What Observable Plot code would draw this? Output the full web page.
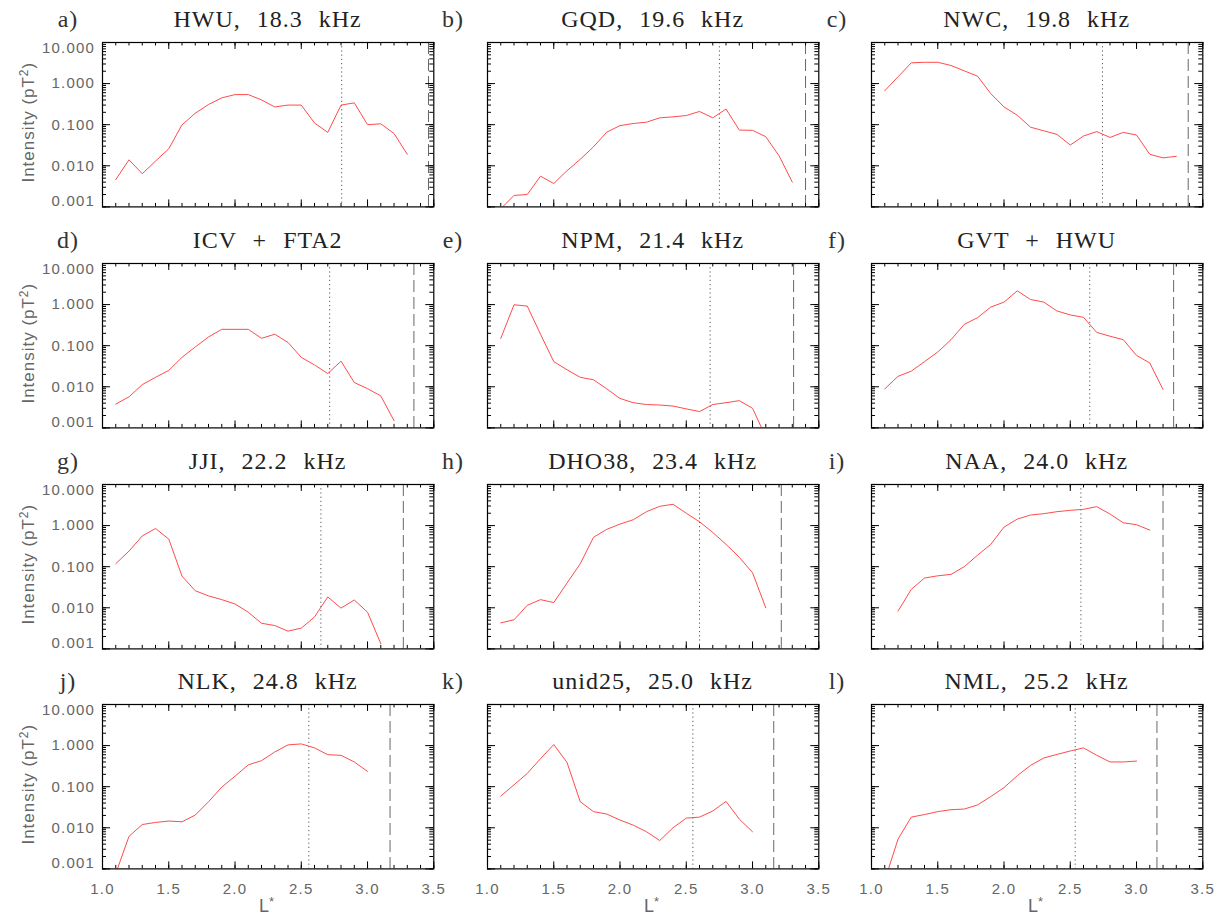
<!DOCTYPE html>
<html>
<head>
<meta charset="utf-8">
<script src="https://cdn.jsdelivr.net/npm/d3@7"></script>
<script src="https://cdn.jsdelivr.net/npm/@observablehq/plot@0.6"></script>
<style>
  html, body { margin: 0; padding: 0; background: #fff; }
  #chart { position: relative; width: 1220px; height: 915px; background: #fff; overflow: hidden; }
  #chart svg { position: absolute; overflow: visible; background: transparent; }
  #chart svg g[aria-label$="tick label"] { letter-spacing: 1.2px; }
</style>
</head>
<body>
<div id="chart"></div>
<script>
// ---------------- data ----------------
const lStar = [1.1, 1.2, 1.3, 1.4, 1.5, 1.6, 1.7, 1.8, 1.9, 2.0, 2.1, 2.2, 2.3, 2.4, 2.5, 2.6, 2.7, 2.8, 2.9, 3.0, 3.1, 3.2, 3.3];

const panelLetters = ["a)", "b)", "c)", "d)", "e)", "f)", "g)", "h)", "i)", "j)", "k)", "l)"];
const panelTitles = ["HWU, 18.3 kHz", "GQD, 19.6 kHz", "NWC, 19.8 kHz",
                     "ICV + FTA2", "NPM, 21.4 kHz", "GVT + HWU",
                     "JJI, 22.2 kHz", "DHO38, 23.4 kHz", "NAA, 24.0 kHz",
                     "NLK, 24.8 kHz", "unid25, 25.0 kHz", "NML, 25.2 kHz"];

const intensityA = [0.0046, 0.014, 0.0064, 0.013, 0.026, 0.099, 0.19, 0.31, 0.45, 0.54, 0.54, 0.40, 0.27, 0.30, 0.30, 0.11, 0.065, 0.30, 0.34, 0.10, 0.105, 0.061, 0.019];
const intensityB = [0.0009, 0.0019, 0.0020, 0.0056, 0.0037, 0.0076, 0.0144, 0.029, 0.066, 0.095, 0.107, 0.115, 0.147, 0.155, 0.167, 0.21, 0.147, 0.24, 0.074, 0.073, 0.051, 0.0175, 0.0040];
const intensityC = [0.67, 1.46, 3.2, 3.3, 3.3, 2.76, 2.04, 1.52, 0.57, 0.27, 0.17, 0.087, 0.071, 0.058, 0.032, 0.053, 0.068, 0.049, 0.065, 0.056, 0.019, 0.0156, 0.017];
const intensityD = [0.0038, 0.0057, 0.0113, 0.017, 0.025, 0.052, 0.093, 0.163, 0.25, 0.25, 0.25, 0.151, 0.19, 0.12, 0.052, 0.034, 0.021, 0.042, 0.0127, 0.009, 0.006, 0.0015, null];
const intensityE = [0.15, 0.99, 0.92, 0.19, 0.041, 0.026, 0.017, 0.0148, 0.0089, 0.0052, 0.0041, 0.0037, 0.0036, 0.0034, 0.0029, 0.0025, 0.0037, 0.0041, 0.0046, 0.0030, 0.0006, null, null];
const intensityF = [0.0089, 0.018, 0.024, 0.041, 0.070, 0.14, 0.33, 0.48, 0.87, 1.15, 2.16, 1.33, 1.15, 0.70, 0.56, 0.49, 0.21, 0.17, 0.14, 0.058, 0.038, 0.0086, null];
const intensityG = [0.118, 0.24, 0.56, 0.85, 0.47, 0.059, 0.026, 0.0195, 0.0158, 0.0124, 0.0078, 0.0042, 0.0037, 0.0027, 0.0032, 0.006, 0.0184, 0.0098, 0.0155, 0.0078, 0.00134, null, null];
const intensityH = [0.0043, 0.0051, 0.0115, 0.0158, 0.0134, 0.040, 0.118, 0.52, 0.81, 1.09, 1.39, 2.18, 2.95, 3.3, 2.0, 1.24, 0.68, 0.35, 0.17, 0.071, 0.0100, null, null];
const intensityI = [null, 0.0083, 0.028, 0.053, 0.060, 0.065, 0.10, 0.19, 0.35, 0.92, 1.44, 1.81, 1.95, 2.18, 2.35, 2.49, 2.89, 1.91, 1.17, 1.05, 0.78, null, null];
const intensityJ = [0.00077, 0.0062, 0.012, 0.0135, 0.0146, 0.014, 0.0204, 0.043, 0.098, 0.18, 0.34, 0.43, 0.70, 1.04, 1.10, 0.88, 0.60, 0.58, 0.40, 0.236, null, null, null];
const intensityK = [0.059, 0.111, 0.21, 0.48, 1.06, 0.39, 0.043, 0.0247, 0.0216, 0.0154, 0.0116, 0.008, 0.0049, 0.010, 0.0172, 0.0182, 0.0256, 0.044, 0.0163, 0.008, null, null, null];
const intensityL = [0.00052, 0.0053, 0.0182, 0.021, 0.0247, 0.0276, 0.0286, 0.0359, 0.0575, 0.095, 0.185, 0.33, 0.50, 0.61, 0.74, 0.88, 0.58, 0.40, 0.40, 0.42, null, null, null];

const dottedL = [2.805, 2.75, 2.743, 2.714, 2.68, 2.647, 2.648, 2.60, 2.58, 2.557, 2.55, 2.537];
const dashedL = [3.46, 3.40, 3.39, 3.35, 3.31, 3.28, 3.27, 3.217, 3.20, 3.17, 3.16, 3.154];

const xTicks = [1.0, 1.5, 2.0, 2.5, 3.0, 3.5];
const yTicks = [0.001, 0.01, 0.1, 1, 10];

// ---------------- layout ----------------
const series = [intensityA, intensityB, intensityC, intensityD, intensityE, intensityF,
                intensityG, intensityH, intensityI, intensityJ, intensityK, intensityL];
const colLeft = [101.7, 486.7, 870.7];
const rowTop = [42.3, 263, 483.7, 704.3];
const FW = 331.3, FH = 164.4;
const ML = 100, MR = 20, MT = 50, MB = 50;

const yMinor = d3.scaleLog().domain([0.001, 10]).ticks();
const xMinor = d3.range(10, 36).map(d => d / 10);

const sans = "'Liberation Sans', Arial, Helvetica, sans-serif";
const serif = "'Liberation Serif', 'Times New Roman', serif";
const labelGray = "#666";

const chart = document.getElementById("chart");

series.forEach((vals, i) => {
  const col = i % 3, row = Math.floor(i / 3);
  const isLeft = col === 0, isBottom = row === 3;
  const rows = lStar.map((L, j) => ({L, v: vals[j]})).filter(d => d.v != null);

  const marks = [
    Plot.ruleX([dottedL[i]], {x: d => d, stroke: "#555", strokeWidth: 1, strokeDasharray: "1.2,3"}),
    Plot.ruleX([dashedL[i]], {x: d => d, stroke: "#666", strokeWidth: 1, strokeDasharray: "12,5"}),
    Plot.line(rows, {x: "L", y: "v", stroke: "#ff4a4a", strokeWidth: 1, clip: true}),
    // inward ticks on all four sides
    Plot.tickY(yMinor, {y: d => d, stroke: "#000", insetRight: FW - 4}),
    Plot.tickY(yMinor, {y: d => d, stroke: "#000", insetLeft: FW - 4}),
    Plot.tickY(yTicks, {y: d => d, stroke: "#000", insetRight: FW - 8}),
    Plot.tickY(yTicks, {y: d => d, stroke: "#000", insetLeft: FW - 8}),
    Plot.tickX(xMinor, {x: d => d, stroke: "#000", insetTop: FH - 3.5}),
    Plot.tickX(xMinor, {x: d => d, stroke: "#000", insetBottom: FH - 3.5}),
    Plot.tickX(xTicks, {x: d => d, stroke: "#000", insetTop: FH - 7}),
    Plot.tickX(xTicks, {x: d => d, stroke: "#000", insetBottom: FH - 7}),
    Plot.frame({stroke: "#000", strokeWidth: 1.2})
  ];

  if (isLeft) {
    const common = {tickFormat: d3.format(".3f"), tickSize: 0, tickPadding: 7.5, fontSize: 15,
                    fill: labelGray, label: null};
    marks.push(Plot.axisY([1, 0.1, 0.01], common));
    marks.push(Plot.axisY([10], {...common, dy: 6}));
    marks.push(Plot.axisY([0.001], {...common, dy: -6}));
  }
  if (isBottom) {
    marks.push(Plot.axisX(xTicks, {tickFormat: d3.format(".1f"), tickSize: 0, tickPadding: 14.7,
                                   fontSize: 15, fill: labelGray, label: null}));
  }

  const svg = Plot.plot({
    width: ML + FW + MR,
    height: MT + FH + MB,
    marginLeft: ML, marginRight: MR, marginTop: MT, marginBottom: MB,
    x: {domain: [1, 3.5], label: null, axis: isBottom ? undefined : null},
    y: {type: "log", domain: [0.001, 10], label: null, axis: isLeft ? undefined : null},
    style: {background: "transparent", overflow: "visible", fontFamily: sans},
    marks
  });
  svg.style.left = (colLeft[col] - ML) + "px";
  svg.style.top = (rowTop[row] - MT) + "px";

  const s = d3.select(svg);
  // panel letter
  s.append("text")
    .attr("x", ML - 34).attr("y", MT - 14.8)
    .attr("font-family", serif).attr("font-size", 24).attr("fill", "#333")
    .attr("letter-spacing", "1px")
    .text(panelLetters[i]);
  // title
  s.append("text")
    .attr("x", ML + FW / 2).attr("y", MT - 14.8)
    .attr("text-anchor", "middle")
    .attr("font-family", serif).attr("font-size", 24).attr("fill", "#222")
    .attr("letter-spacing", "1px").attr("word-spacing", "9px")
    .text(panelTitles[i]);

  if (isLeft) {
    const t = s.append("text")
      .attr("transform", `translate(${ML - 68.4},${MT + FH / 2 - 2}) rotate(-90)`)
      .attr("text-anchor", "middle")
      .attr("font-family", sans).attr("font-size", 17).attr("fill", labelGray)
      .attr("letter-spacing", "1px");
    t.append("tspan").text("Intensity (pT");
    t.append("tspan").attr("dy", -6).attr("font-size", 12).text("2");
    t.append("tspan").attr("dy", 6).text(")");
  }
  if (isBottom) {
    const t = s.append("text")
      .attr("x", ML + FW / 2 - 1).attr("y", MT + FH + 43.7)
      .attr("text-anchor", "middle")
      .attr("font-family", sans).attr("font-size", 18).attr("fill", labelGray);
    t.append("tspan").text("L");
    t.append("tspan").attr("dy", -6).attr("font-size", 13).text("*");
  }

  chart.appendChild(svg);
});
</script>
</body>
</html>
